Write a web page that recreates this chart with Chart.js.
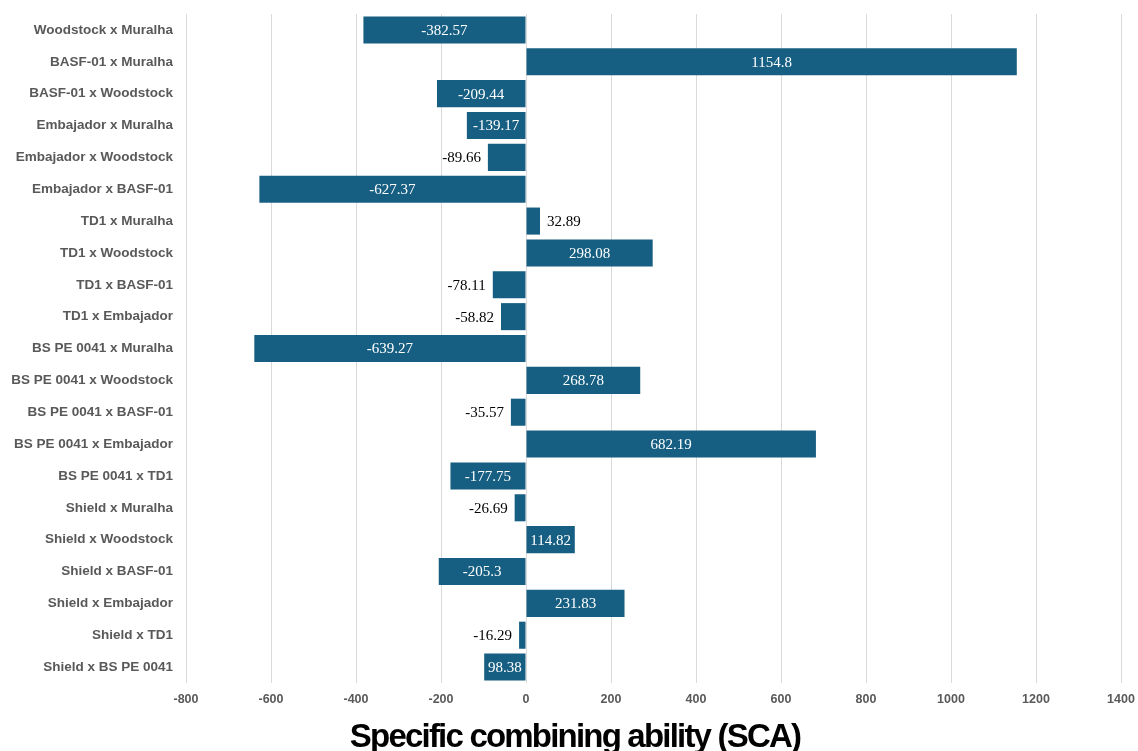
<!DOCTYPE html>
<html>
  <head>
    <title>SCA chart</title>
    <style>
      body {
        background-color: white;
        margin: 0;
        padding: 0;
      }
      .chart-box {
        width: 1138px;
        height: 751px;
      }
    </style>
    <script src="https://cdn.jsdelivr.net/npm/chart.js"></script>
  </head>
  <body>
    <div class="chart-box">
      <canvas id="scaChart"></canvas>
    </div>
    <script>
      // crosses, top to bottom
      const crosses = [
        "Woodstock x Muralha",
        "BASF-01 x Muralha",
        "BASF-01 x Woodstock",
        "Embajador x Muralha",
        "Embajador x Woodstock",
        "Embajador x BASF-01",
        "TD1 x Muralha",
        "TD1 x Woodstock",
        "TD1 x BASF-01",
        "TD1 x Embajador",
        "BS PE 0041 x Muralha",
        "BS PE 0041 x Woodstock",
        "BS PE 0041 x BASF-01",
        "BS PE 0041 x Embajador",
        "BS PE 0041 x TD1",
        "Shield x Muralha",
        "Shield x Woodstock",
        "Shield x BASF-01",
        "Shield x Embajador",
        "Shield x TD1",
        "Shield x BS PE 0041"
      ];

      const scaValues = [
        -382.57, 1154.8, -209.44, -139.17, -89.66, -627.37, 32.89, 298.08,
        -78.11, -58.82, -639.27, 268.78, -35.57, 682.19, -177.75, -26.69,
        114.82, -205.3, 231.83, -16.29, -98.38
      ];

      // text printed on each bar, as in the original figure
      const barLabels = [
        "-382.57", "1154.8", "-209.44", "-139.17", "-89.66", "-627.37", "32.89", "298.08",
        "-78.11", "-58.82", "-639.27", "268.78", "-35.57", "682.19", "-177.75", "-26.69",
        "114.82", "-205.3", "231.83", "-16.29", "98.38"
      ];

      const xMin = -800;
      const xMax = 1400;
      const xStep = 200;

      const axisTitle = "Specific combining ability (SCA)";
      const barColor = "#175f82";

      // draws the value labels: inside the bar if it fits, otherwise just outside
      const valueLabels = {
        id: "valueLabels",
        afterDatasetsDraw(chart) {
          const ctx = chart.ctx;
          const meta = chart.getDatasetMeta(0);
          ctx.save();
          ctx.font = "15px 'Liberation Serif', 'Times New Roman', serif";
          ctx.textBaseline = "middle";
          meta.data.forEach((bar, i) => {
            const text = barLabels[i];
            const w = ctx.measureText(text).width;
            const left = Math.min(bar.x, bar.base);
            const right = Math.max(bar.x, bar.base);
            const barW = right - left;
            if (w + 6 < barW) {
              ctx.fillStyle = "#ffffff";
              ctx.textAlign = "center";
              ctx.fillText(text, (left + right) / 2, bar.y + 1);
            } else if (scaValues[i] < 0) {
              ctx.fillStyle = "#000000";
              ctx.textAlign = "right";
              ctx.fillText(text, left - 7, bar.y + 1);
            } else {
              ctx.fillStyle = "#000000";
              ctx.textAlign = "left";
              ctx.fillText(text, right + 7, bar.y + 1);
            }
          });
          ctx.restore();
        }
      };

      // big condensed axis title under the ticks
      const bottomTitle = {
        id: "bottomTitle",
        afterDraw(chart) {
          const ctx = chart.ctx;
          ctx.save();
          ctx.font = "bold 33px 'Liberation Sans', Arial, sans-serif";
          ctx.letterSpacing = "-1.8px";
          ctx.fillStyle = "#000000";
          ctx.textAlign = "center";
          ctx.textBaseline = "alphabetic";
          ctx.fillText(axisTitle, chart.width / 2 + 6, chart.height - 4);
          ctx.restore();
        }
      };

      const ctxEl = document.getElementById("scaChart");
      new Chart(ctxEl, {
        type: "bar",
        data: {
          labels: crosses,
          datasets: [
            {
              data: scaValues,
              backgroundColor: barColor,
              borderWidth: 0,
              barPercentage: 0.85,
              categoryPercentage: 1
            }
          ]
        },
        options: {
          indexAxis: "y",
          responsive: true,
          maintainAspectRatio: false,
          animation: false,
          layout: {
            padding: { top: 14, right: 17, bottom: 35, left: 0 }
          },
          plugins: {
            legend: { display: false },
            tooltip: { enabled: false },
            title: { display: false }
          },
          scales: {
            x: {
              min: xMin,
              max: xMax,
              ticks: {
                stepSize: xStep,
                color: "#595959",
                font: { family: "'Liberation Sans', Arial, sans-serif", size: 12.5, weight: "bold" },
                padding: 9,
                callback: (value) => String(value)
              },
              grid: {
                color: "#d9d9d9",
                lineWidth: 1,
                drawTicks: false
              },
              border: { display: false },
              afterFit(axis) {
                axis.paddingLeft = 0;
                axis.paddingRight = 0;
              }
            },
            y: {
              grid: { display: false, drawTicks: false },
              border: { display: false },
              ticks: {
                color: "#595959",
                font: { family: "'Liberation Sans', Arial, sans-serif", size: 13.5, weight: "bold" },
                padding: 13
              },
              afterFit(axis) {
                axis.width = 186;
                axis.paddingTop = 0;
                axis.paddingBottom = 0;
              }
            }
          }
        },
        plugins: [valueLabels, bottomTitle]
      });
    </script>
  </body>
</html>
